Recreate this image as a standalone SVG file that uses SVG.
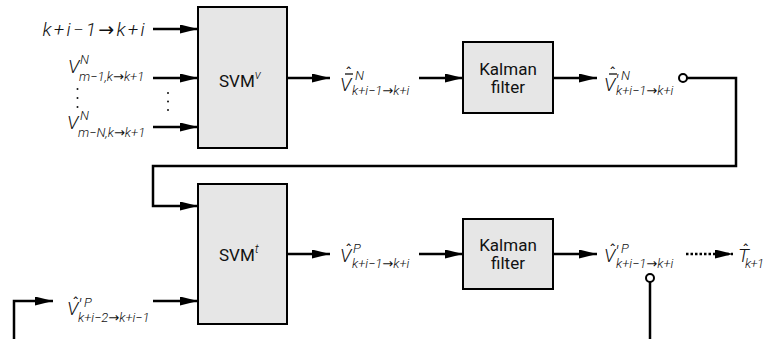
<svg xmlns="http://www.w3.org/2000/svg" width="763" height="339" viewBox="0 0 763 339">
<defs>
<marker id="ah" markerUnits="userSpaceOnUse" markerWidth="19" markerHeight="10" refX="18" refY="4.5" orient="auto">
<path d="M0,0 L18,4.5 L0,9 z" fill="#000"/>
</marker>
<style>
.box{fill:#e6e6e6;stroke:#000;stroke-width:2}
.lbl{font-family:Roboto,"Liberation Sans",sans-serif;font-size:17px;font-weight:400;fill:#111}
.m{font-family:Roboto,"DejaVu Sans",sans-serif;font-style:italic;font-weight:300;fill:#111}
.big{font-size:19px}
.sm{font-size:13px}
.hat{font-size:16px;font-weight:400;font-style:normal}
.ln{fill:none;stroke:#000;stroke-width:2.5}
.ar{fill:none;stroke:#000;stroke-width:2.5;marker-end:url(#ah)}
.dot{fill:#fff;stroke:#000;stroke-width:2}
.bar{stroke:#111;stroke-width:1.3}
</style>
</defs>
<rect width="763" height="339" fill="#fff"/>

<g id="svm_v">
<rect class="box" x="198" y="7" width="89" height="141"/>
<text class="lbl" x="219" y="87" font-size="18">SVM<tspan class="m sm" dy="-8">v</tspan></text>
</g>
<g id="svm_t">
<rect class="box" x="198" y="184" width="89" height="140"/>
<text class="lbl" x="219" y="261" font-size="18">SVM<tspan class="m sm" dy="-8">t</tspan></text>
</g>
<g id="kalman1">
<rect class="box" x="463" y="42" width="90" height="71"/>
<text class="lbl" x="508" y="75" text-anchor="middle">Kalman</text>
<text class="lbl" x="508" y="93" text-anchor="middle">filter</text>
</g>
<g id="kalman2">
<rect class="box" x="463" y="219" width="90" height="70"/>
<text class="lbl" x="508" y="251" text-anchor="middle">Kalman</text>
<text class="lbl" x="508" y="269" text-anchor="middle">filter</text>
</g>

<g id="in_ki">
<text class="m big" x="147" y="36" text-anchor="end" letter-spacing="2.3">k+i−1→k+i</text>
</g>
<g id="in_v1">
<text class="m"><tspan class="big" x="68" y="73">V</tspan><tspan class="sm" x="80" y="64">N</tspan><tspan class="sm" x="79" y="81">m−1,k→k+1</tspan></text>
</g>
<g id="in_vdots">
<circle cx="77.5" cy="89" r="1" fill="#111"/>
<circle cx="77.5" cy="98" r="1" fill="#111"/>
<circle cx="77.5" cy="107" r="1" fill="#111"/>
<circle cx="168" cy="93" r="1" fill="#111"/>
<circle cx="168" cy="101.5" r="1" fill="#111"/>
<circle cx="168" cy="110" r="1" fill="#111"/>
</g>
<g id="in_vN">
<text class="m"><tspan class="big" x="67" y="129">V</tspan><tspan class="sm" x="80" y="120">N</tspan><tspan class="sm" x="78" y="137">m−N,k→k+1</tspan></text>
</g>

<g id="out_svmv">
<text class="m"><tspan class="big" x="340" y="91">V</tspan><tspan class="hat" x="345" y="79">ˆ</tspan><tspan class="sm" x="355" y="80">N</tspan><tspan class="sm" x="352" y="95">k+i−1→k+i</tspan></text>
<line class="bar" x1="345" y1="74" x2="353" y2="74"/>
</g>
<g id="out_kal1">
<text class="m"><tspan class="big" x="604" y="91">V</tspan><tspan class="hat" x="609" y="79">ˆ</tspan><tspan class="big" x="615" y="88">′</tspan><tspan class="sm" x="621" y="80">N</tspan><tspan class="sm" x="616" y="95">k+i−1→k+i</tspan></text>
<line class="bar" x1="609" y1="74" x2="617" y2="74"/>
</g>
<g id="out_svmt">
<text class="m"><tspan class="big" x="340" y="262">V</tspan><tspan class="hat" x="345" y="256">ˆ</tspan><tspan class="sm" x="353" y="253">P</tspan><tspan class="sm" x="352" y="268">k+i−1→k+i</tspan></text>
</g>
<g id="out_kal2">
<text class="m"><tspan class="big" x="604" y="262">V</tspan><tspan class="hat" x="609" y="256">ˆ</tspan><tspan class="big" x="615" y="259">′</tspan><tspan class="sm" x="621" y="253">P</tspan><tspan class="sm" x="616" y="268">k+i−1→k+i</tspan></text>
</g>
<g id="out_T">
<text class="m"><tspan class="big" x="738" y="262">T</tspan><tspan class="hat" x="742" y="256">ˆ</tspan><tspan class="sm" x="745" y="268" letter-spacing="-0.6">k+1</tspan></text>
</g>
<g id="in_prev">
<text class="m"><tspan class="big" x="67" y="315">V</tspan><tspan class="hat" x="72" y="309">ˆ</tspan><tspan class="big" x="78" y="312">′</tspan><tspan class="sm" x="84" y="307">P</tspan><tspan class="sm" x="78" y="322">k+i−2→k+i−1</tspan></text>
</g>

<g id="connectors">
<line class="ar" x1="153" y1="29" x2="198" y2="29"/>
<line class="ar" x1="153" y1="78" x2="198" y2="78"/>
<line class="ar" x1="153" y1="127" x2="198" y2="127"/>
<line class="ar" x1="287" y1="78" x2="330" y2="78"/>
<line class="ar" x1="419" y1="78" x2="463" y2="78"/>
<line class="ar" x1="553" y1="78" x2="597" y2="78"/>
<circle class="dot" cx="683" cy="78" r="4"/>
<polyline class="ar" points="687,78 736,78 736,166 153,166 153,206 198,206"/>
<polyline class="ar" points="14,339 14,301 53,301"/>
<line class="ar" x1="153" y1="301" x2="198" y2="301"/>
<line class="ar" x1="287" y1="254" x2="330" y2="254"/>
<line class="ar" x1="419" y1="254" x2="463" y2="254"/>
<line class="ar" x1="553" y1="254" x2="597" y2="254"/>
<line class="ar" x1="686" y1="254" x2="733" y2="254" stroke-dasharray="2.5 2"/>
<circle class="dot" cx="650" cy="278" r="4"/>
<line class="ln" x1="650" y1="282" x2="650" y2="339"/>
</g>
</svg>
